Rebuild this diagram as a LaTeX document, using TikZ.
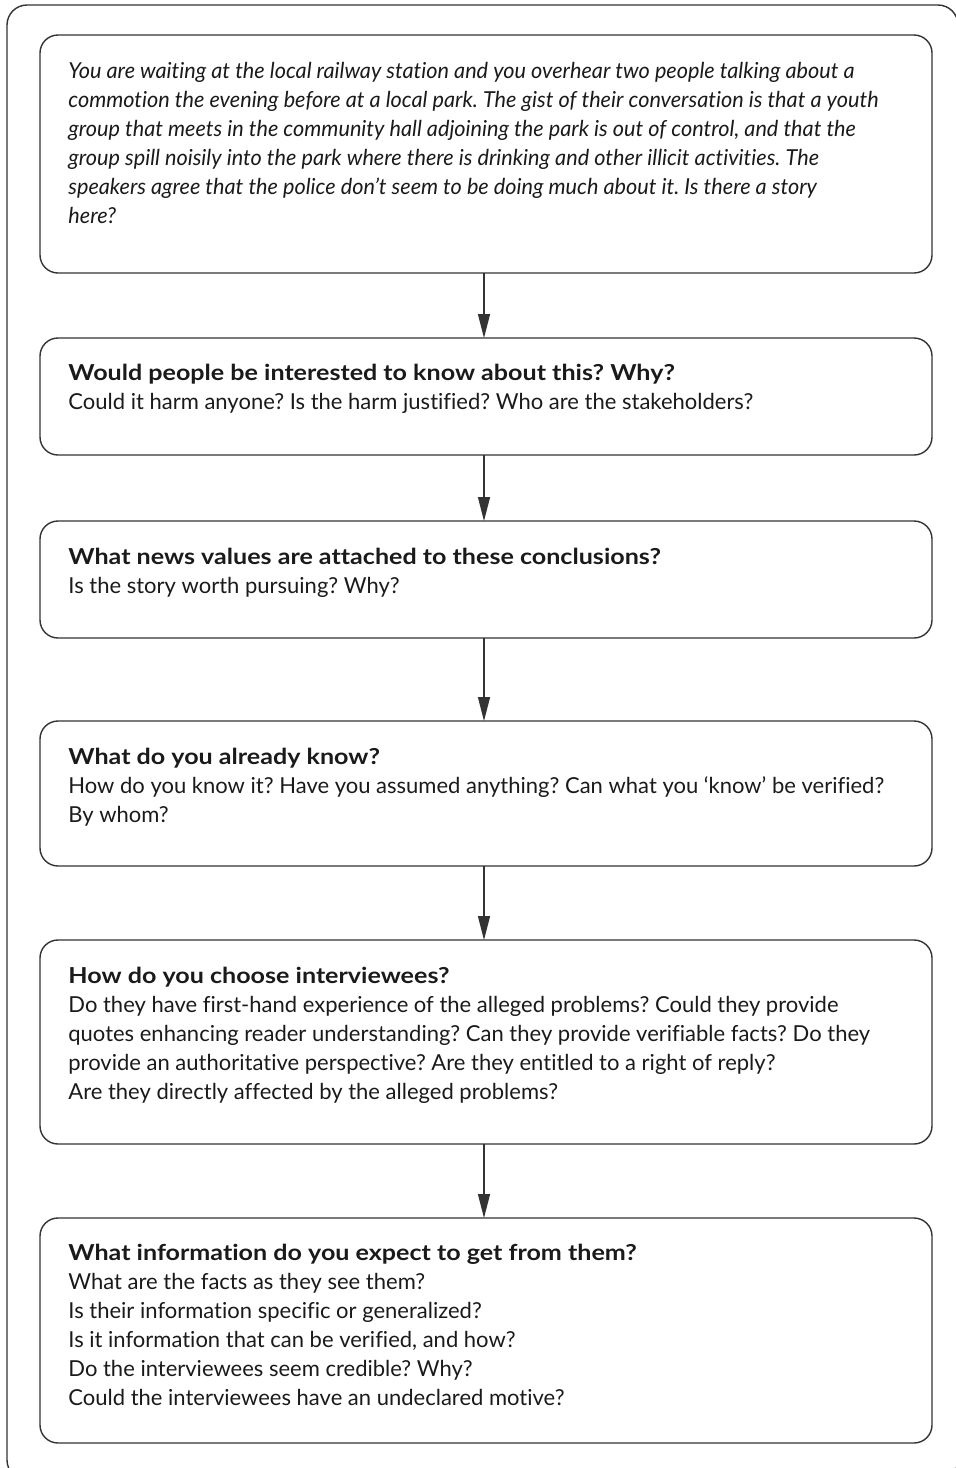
\documentclass[tikz,border=0pt]{standalone}
\usepackage{fontspec}
\setmainfont{Lato}[Ligatures=NoCommon, BoldFeatures={FakeStretch=1.14}, ItalicFeatures={FakeStretch=0.985}]
\frenchspacing
\usetikzlibrary{arrows.meta}
\definecolor{linecol}{HTML}{333333}
\definecolor{txtcol}{HTML}{1A1A1A}
\tikzset{
  stepbox/.style={draw=linecol, line width=0.7pt, rounded corners=9pt},
  boxtext/.style={anchor=north west, inner sep=0pt, align=left, text=txtcol,
    font=\fontsize{11pt}{14.5pt}\selectfont},
  flow/.style={draw=linecol, line width=0.7pt, -{Triangle[length=12pt,width=6pt]}},
}
\begin{document}
\begin{tikzpicture}[x=0.5pt,y=-0.5pt]
\useasboundingbox (0,0) rectangle (956,1468);
\clip (0,0) rectangle (956,1468);
\draw[linecol, line width=0.7pt, rounded corners=10pt] (7,5) rectangle (958,1480);
% boxes
\path[stepbox] (40,35) rectangle (932,273);
\coordinate (b1t) at (484,35); \coordinate (b1b) at (484,273);
\path[stepbox] (40,338) rectangle (932,455);
\coordinate (b2t) at (484,338); \coordinate (b2b) at (484,455);
\path[stepbox] (40,521) rectangle (932,638);
\coordinate (b3t) at (484,521); \coordinate (b3b) at (484,638);
\path[stepbox] (40,721) rectangle (932,866);
\coordinate (b4t) at (484,721); \coordinate (b4b) at (484,866);
\path[stepbox] (40,940) rectangle (932,1144);
\coordinate (b5t) at (484,940); \coordinate (b5b) at (484,1144);
\path[stepbox] (40,1218) rectangle (932,1443);
\coordinate (b6t) at (484,1218); \coordinate (b6b) at (484,1443);
% texts
\node[boxtext] (t1) at (68,62) {\itshape You are waiting at the local railway station and you overhear two people talking about a\\
\itshape commotion the evening before at a local park. The gist of their conversation is that a youth\\
\itshape group that meets in the community hall adjoining the park is out of control, and that the\\
\itshape group spill noisily into the park where there is drinking and other illicit activities. The\\
\itshape speakers agree that the police don’t seem to be doing much about it. Is there a story\\
\itshape here?};
\node[boxtext] (t2) at (68,364) {\textbf{Would people be interested to know about this? Why?}\\
Could it harm anyone? Is the harm justified? Who are the stakeholders?};
\node[boxtext] (t3) at (68,548) {\textbf{What news values are attached to these conclusions?}\\
Is the story worth pursuing? Why?};
\node[boxtext] (t4) at (68,748) {\textbf{What do you already know?}\\
How do you know it? Have you assumed anything? Can what you ‘know’ be verified?\\
By whom?};
\node[boxtext] (t5) at (68,967) {\textbf{How do you choose interviewees?}\\
Do they have first-hand experience of the alleged problems? Could they provide\\
quotes enhancing reader understanding? Can they provide verifiable facts? Do they\\
provide an authoritative perspective? Are they entitled to a right of reply?\\
Are they directly affected by the alleged problems?};
\node[boxtext] (t6) at (68,1244) {\textbf{What information do you expect to get from them?}\\
What are the facts as they see them?\\
Is their information specific or generalized?\\
Is it information that can be verified, and how?\\
Do the interviewees seem credible? Why?\\
Could the interviewees have an undeclared motive?};
% connectors
\draw[flow] (b1b) -- (b2t);
\draw[flow] (b2b) -- (b3t);
\draw[flow] (b3b) -- (b4t);
\draw[flow] (b4b) -- (b5t);
\draw[flow] (b5b) -- (b6t);
\end{tikzpicture}
\end{document}
